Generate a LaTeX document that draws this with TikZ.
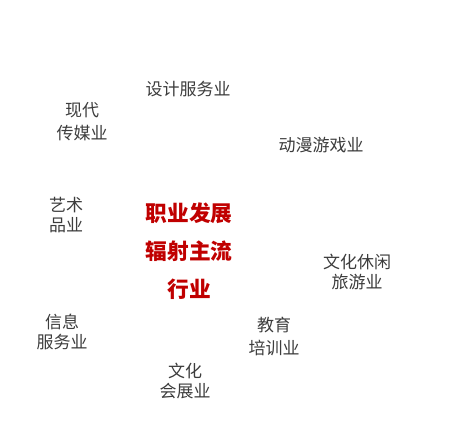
\documentclass[tikz,border=0pt]{standalone}
\usepackage{fontspec}
\newfontfamily\cjk{Noto Sans CJK SC}
\usetikzlibrary{positioning}
\definecolor{txtgray}{HTML}{3C3C3C}
\definecolor{hubred}{HTML}{C00000}

\begin{document}
\begin{tikzpicture}[
  x=1pt, y=-1pt,
  ind/.style={inner sep=0pt, align=center, text=txtgray,
              font=\cjk\fontsize{17}{20}\selectfont},
  wide/.style={ind, font=\cjk\fontsize{17}{23}\selectfont},
  hub/.style={inner sep=0pt, align=center, text=hubred,
              font=\cjk\bfseries\fontsize{21.7}{38}\selectfont}
]
\useasboundingbox (0,0) rectangle (455,425);

\node[hub]  (core)   at (189,251)   {职业发展\\辐射主流\\行业};

\node[ind]  (design) at (188,89)    {设计服务业};
\node[wide] (media)  at (82,121.5)  {现代\\传媒业};
\node[ind]  (anime)  at (321,145)   {动漫游戏业};
\node[ind]  (art)    at (66,215)    {艺术\\品业};
\node[ind]  (tour)   at (357,272)   {文化休闲\\旅游业};
\node[ind]  (info)   at (62,332)    {信息\\服务业};
\node[wide] (edu)    at (274,336.5) {教育\\培训业};
\node[ind]  (expo)   at (185,381)   {文化\\会展业};
\end{tikzpicture}
\end{document}
